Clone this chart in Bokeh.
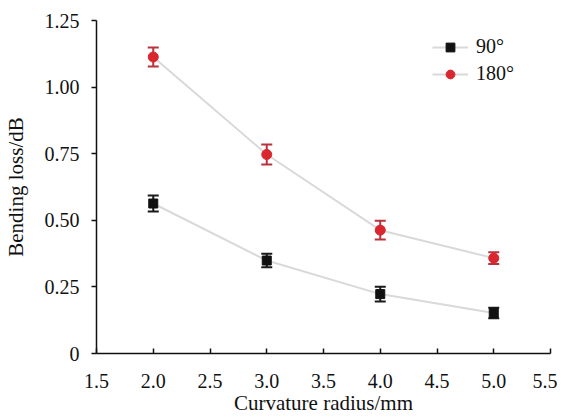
from bokeh.plotting import figure
from bokeh.models import ColumnDataSource, Whisker, TeeHead, FixedTicker, Legend, LegendItem
from bokeh.embed import file_html
from bokeh.resources import INLINE

radius = [2.0, 3.0, 4.0, 5.0]
loss_90 = [0.563, 0.349, 0.223, 0.152]
err_90 = [0.030, 0.025, 0.028, 0.020]
loss_180 = [1.113, 0.747, 0.463, 0.358]
err_180 = [0.036, 0.038, 0.035, 0.022]
x_ticks = [1.5, 2.0, 2.5, 3.0, 3.5, 4.0, 4.5, 5.0, 5.5]
y_ticks = [0, 0.25, 0.5, 0.75, 1.0, 1.25]
y_labels = ["0", "0.25", "0.50", "0.75", "1.00", "1.25"]
series_names = ["90°", "180°"]

FONT = "Liberation Serif"

p = figure(width=557, height=417, output_backend="svg", toolbar_location=None,
           x_range=(1.5, 5.5), y_range=(0, 1.25),
           min_border_left=96, min_border_right=7, min_border_top=20, min_border_bottom=64)
p.outline_line_color = None
p.grid.visible = False
p.background_fill_color = "white"
p.border_fill_color = "white"

s90 = ColumnDataSource(dict(x=radius, y=loss_90,
                            lo=[v - e for v, e in zip(loss_90, err_90)],
                            hi=[v + e for v, e in zip(loss_90, err_90)]))
s180 = ColumnDataSource(dict(x=radius, y=loss_180,
                             lo=[v - e for v, e in zip(loss_180, err_180)],
                             hi=[v + e for v, e in zip(loss_180, err_180)]))

l90 = p.line("x", "y", source=s90, line_color="#d9d9d9", line_width=2)
l180 = p.line("x", "y", source=s180, line_color="#d9d9d9", line_width=2)

for src, col in [(s90, "#1a1a1a"), (s180, "#b8333c")]:
    w = Whisker(source=src, base="x", lower="lo", upper="hi",
                line_color=col, line_width=2,
                upper_head=TeeHead(size=11, line_color=col, line_width=2),
                lower_head=TeeHead(size=11, line_color=col, line_width=2))
    p.add_layout(w)

m90 = p.scatter("x", "y", source=s90, marker="square", size=9, fill_color="#111111", line_color="#111111")
m180 = p.scatter("x", "y", source=s180, marker="circle", size=10, fill_color="#d9262f", line_color="#d9262f")

legend = Legend(items=[LegendItem(label=series_names[0], renderers=[l90, m90]),
                       LegendItem(label=series_names[1], renderers=[l180, m180])],
                location=(336, 268), background_fill_alpha=0, border_line_color=None,
                padding=0, margin=0, spacing=4, glyph_width=36, glyph_height=22,
                label_standoff=8, label_text_font=FONT, label_text_font_style="normal",
                label_text_font_size="20px", label_text_color="#111111")
p.add_layout(legend)

p.axis.axis_line_color = "#111111"
p.axis.axis_line_width = 1.5
p.axis.major_tick_line_color = "#111111"
p.axis.major_tick_line_width = 1.5
p.axis.minor_tick_line_color = None
p.axis.major_label_text_font = FONT
p.axis.major_label_text_font_size = "20px"
p.axis.major_label_text_font_style = "normal"
p.axis.major_label_text_color = "#111111"
p.axis.axis_label_text_font = FONT
p.axis.axis_label_text_font_size = "21px"
p.axis.axis_label_text_font_style = "normal"
p.axis.axis_label_text_color = "#111111"

p.xaxis.ticker = FixedTicker(ticks=x_ticks)
p.xaxis.major_label_overrides = {t: f"{t:.1f}" for t in x_ticks}
p.xaxis.major_tick_in = 5
p.xaxis.major_tick_out = 0
p.xaxis.major_label_standoff = 20
p.xaxis.axis_label = "Curvature radius/mm"
p.xaxis.axis_label_standoff = 0

p.yaxis.ticker = FixedTicker(ticks=y_ticks)
p.yaxis.major_label_overrides = {t: l for t, l in zip(y_ticks, y_labels)}
p.yaxis.major_tick_in = 0
p.yaxis.major_tick_out = 5
p.yaxis.major_label_standoff = 12
p.yaxis.axis_label = "Bending loss/dB"
p.yaxis.axis_label_standoff = 14

open("out.html", "w").write(file_html(p, INLINE))
